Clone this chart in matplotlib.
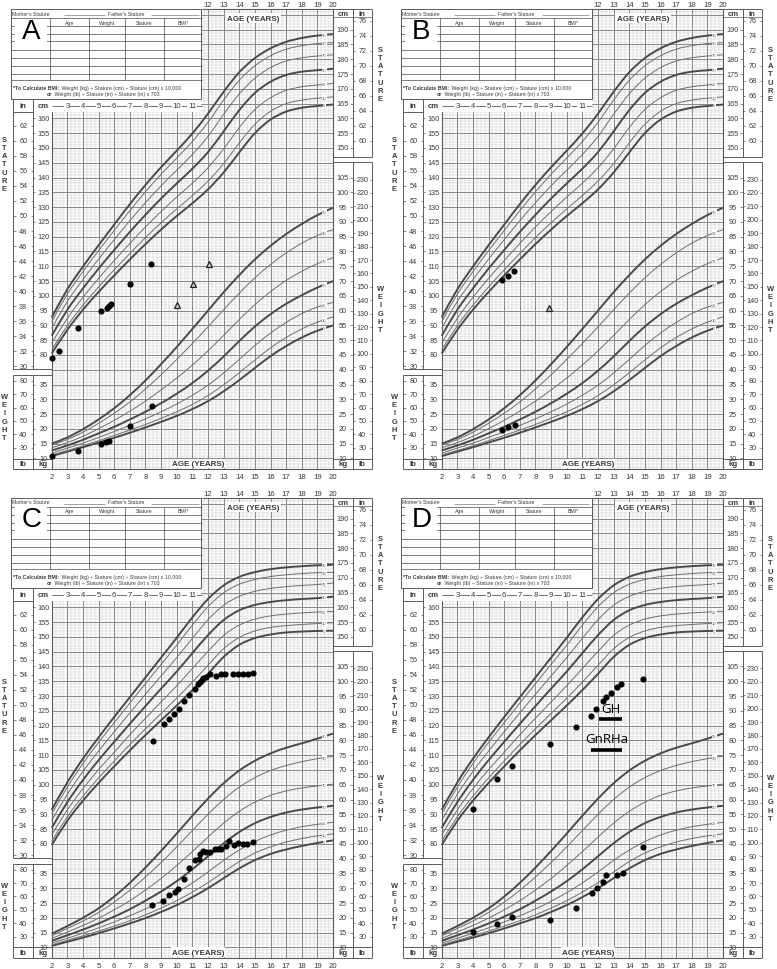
import matplotlib
matplotlib.use("Agg")
import matplotlib.pyplot as plt
import numpy as np
from matplotlib.patches import Rectangle, PathPatch
from matplotlib.path import Path
from matplotlib.collections import LineCollection

plt.rcParams['font.family'] = ['Liberation Sans', 'DejaVu Sans']

# ---------------- data ----------------
AGES = list(range(2, 21))
PCTS = [5, 10, 25, 50, 75, 90, 95]

BOY_STATURE = {
    5:  [80.5, 88.5, 95.3, 101.3, 106.9, 112.3, 117.5, 122.4, 127.0, 131.3, 136.0, 141.7, 148.5, 155.0, 159.6, 162.3, 163.6, 164.2, 164.7],
    10: [81.8, 89.9, 96.8, 103.0, 108.8, 114.3, 119.7, 124.7, 129.4, 133.9, 138.8, 144.7, 151.7, 158.0, 162.4, 165.0, 166.2, 166.8, 167.3],
    25: [84.0, 92.4, 99.5, 105.9, 111.9, 117.7, 123.3, 128.5, 133.4, 138.1, 143.3, 149.7, 156.9, 163.0, 167.0, 169.5, 170.7, 171.3, 171.8],
    50: [86.5, 95.3, 102.5, 109.2, 115.5, 121.6, 127.4, 132.9, 138.0, 143.0, 148.6, 155.6, 162.8, 168.6, 172.4, 174.7, 175.8, 176.3, 176.8],
    75: [89.0, 98.1, 105.5, 112.4, 119.0, 125.4, 131.5, 137.2, 142.5, 147.8, 153.9, 161.4, 168.3, 173.6, 177.2, 179.4, 180.5, 181.1, 181.5],
    90: [91.2, 100.6, 108.2, 115.3, 122.1, 128.8, 135.2, 141.1, 146.6, 152.2, 158.7, 166.2, 172.9, 177.8, 181.2, 183.4, 184.6, 185.3, 185.6],
    95: [92.7, 102.2, 109.9, 117.1, 124.1, 131.0, 137.5, 143.5, 149.1, 154.9, 161.6, 169.0, 175.6, 180.4, 183.7, 185.9, 187.2, 188.0, 188.5],
}
BOY_WEIGHT = {
    5:  [10.8, 12.3, 13.8, 15.4, 17.0, 18.7, 20.5, 22.4, 24.4, 26.7, 29.4, 32.7, 36.5, 40.6, 44.6, 48.0, 50.9, 53.2, 55.0],
    10: [11.2, 12.7, 14.3, 16.0, 17.8, 19.6, 21.5, 23.6, 25.8, 28.3, 31.3, 34.9, 39.0, 43.3, 47.4, 50.9, 53.8, 56.1, 57.9],
    25: [11.8, 13.5, 15.2, 17.1, 19.1, 21.2, 23.4, 25.8, 28.4, 31.4, 34.8, 38.9, 43.5, 48.2, 52.4, 56.0, 59.0, 61.2, 62.8],
    50: [12.7, 14.4, 16.3, 18.5, 20.7, 23.2, 25.8, 28.7, 31.9, 35.5, 39.7, 44.5, 49.7, 54.6, 58.8, 62.3, 65.2, 67.8, 70.0],
    75: [13.6, 15.4, 17.5, 20.1, 22.9, 26.0, 29.4, 33.2, 37.2, 41.6, 46.4, 51.6, 57.0, 62.0, 66.4, 70.2, 73.3, 75.9, 77.9],
    90: [14.5, 16.4, 18.9, 21.9, 25.3, 29.1, 33.5, 38.3, 43.5, 48.9, 54.5, 60.3, 65.9, 71.1, 75.6, 79.5, 82.8, 85.4, 87.4],
    95: [15.0, 17.1, 19.9, 23.2, 27.0, 31.4, 36.4, 41.9, 47.7, 53.8, 60.0, 66.2, 72.0, 77.3, 81.9, 85.9, 89.3, 92.3, 94.8],
}
GIRL_STATURE = {
    5:  [79.6, 87.8, 94.6, 100.6, 106.2, 111.6, 116.8, 121.8, 126.8, 132.0, 137.5, 143.2, 147.3, 149.6, 150.8, 151.5, 151.8, 152.0, 152.1],
    10: [80.9, 89.2, 96.1, 102.3, 108.0, 113.6, 118.9, 124.1, 129.3, 134.7, 140.4, 146.0, 149.8, 152.0, 153.2, 153.8, 154.2, 154.5, 154.8],
    25: [83.0, 91.5, 98.7, 105.1, 111.0, 116.9, 122.5, 128.0, 133.5, 139.3, 145.1, 150.5, 154.0, 156.0, 157.1, 157.7, 158.1, 158.4, 158.6],
    50: [85.4, 94.1, 101.6, 108.3, 114.5, 120.6, 126.6, 132.5, 138.3, 144.5, 150.6, 155.7, 159.0, 160.8, 161.8, 162.4, 162.8, 163.1, 163.6],
    75: [87.9, 96.8, 104.5, 111.4, 117.9, 124.3, 130.6, 136.8, 143.0, 149.5, 155.8, 160.7, 163.7, 165.4, 166.4, 167.0, 167.4, 167.7, 168.2],
    90: [90.1, 99.2, 107.2, 114.3, 121.0, 127.6, 134.2, 140.7, 147.2, 154.0, 160.2, 164.9, 167.8, 169.4, 170.4, 171.0, 171.4, 171.7, 171.8],
    95: [91.5, 100.8, 108.8, 116.0, 122.9, 129.6, 136.3, 143.0, 149.7, 156.6, 162.8, 167.4, 170.3, 171.9, 172.9, 173.5, 173.9, 174.2, 174.4],
}
GIRL_WEIGHT = {
    5:  [10.5, 11.9, 13.3, 14.8, 16.4, 18.1, 19.9, 22.0, 24.3, 27.0, 30.0, 33.4, 36.7, 39.5, 41.6, 43.1, 44.3, 45.3, 46.2],
    10: [10.9, 12.4, 13.9, 15.5, 17.2, 19.0, 21.0, 23.3, 25.8, 28.7, 31.9, 35.5, 39.0, 41.9, 44.0, 45.6, 46.8, 47.7, 48.4],
    25: [11.5, 13.1, 14.8, 16.6, 18.6, 20.7, 23.0, 25.6, 28.5, 31.8, 35.5, 39.4, 42.9, 45.8, 48.0, 49.6, 50.8, 51.6, 52.3],
    50: [12.2, 14.1, 16.0, 18.1, 20.4, 22.9, 25.8, 28.9, 32.4, 36.4, 40.8, 45.2, 49.0, 52.0, 54.1, 55.6, 56.6, 57.3, 57.9],
    75: [13.0, 15.2, 17.4, 19.9, 22.7, 25.8, 29.4, 33.3, 37.7, 42.4, 47.3, 52.0, 56.0, 59.1, 61.4, 62.9, 63.9, 64.6, 65.2],
    90: [13.9, 16.4, 18.9, 21.8, 25.3, 29.3, 33.8, 38.7, 44.0, 49.5, 55.0, 60.0, 64.2, 67.4, 69.8, 71.5, 72.8, 73.8, 74.7],
    95: [14.6, 17.2, 20.0, 23.2, 27.2, 31.8, 37.0, 42.6, 48.5, 54.5, 60.3, 65.5, 69.8, 73.1, 75.6, 77.5, 79.0, 80.6, 82.3],
}

# patient data (age in years, stature in cm, weight in kg)
A_STAT_AGE = [2.0, 2.49, 3.66, 5.17, 5.52, 5.65, 5.77, 6.99, 8.35]
A_STAT_CM = [79.0, 81.3, 89.0, 94.9, 95.9, 96.7, 97.1, 104.0, 110.9]
A_BONE_AGE = [10.02, 11.02, 12.04]
A_BONE_CM = [96.9, 104.0, 110.9]
A_WT_AGE = [2.0, 3.66, 5.17, 5.47, 5.67, 6.99, 8.42]
A_WT_KG = [10.9, 12.4, 15.0, 15.5, 16.0, 20.9, 27.8]

B_STAT_AGE = [5.86, 6.24, 6.63]
B_STAT_CM = [105.3, 106.8, 108.4]
B_BONE_AGE = [8.86]
B_BONE_CM = [95.8]
B_WT_AGE = [5.86, 6.24, 6.66]
B_WT_KG = [19.7, 20.6, 21.3]

C_STAT_AGE = [8.46, 9.18, 9.52, 9.84, 10.13, 10.48, 10.8, 11.15, 11.36, 11.49, 11.6, 11.7, 11.89,
              12.15, 12.51, 12.83, 13.09, 13.6, 13.94, 14.26, 14.54, 14.9]
C_STAT_CM = [114.8, 120.5, 122.1, 124.0, 125.6, 128.4, 130.4, 132.4, 133.9, 134.7, 135.4, 136.1, 136.6,
             137.3, 136.9, 137.4, 137.5, 137.5, 137.5, 137.5, 137.5, 137.8]
C_WT_AGE = [8.44, 9.10, 9.50, 9.87, 10.08, 10.48, 10.78, 11.15, 11.42, 11.49, 11.70, 11.85, 12.13,
            12.47, 12.62, 12.81, 13.13, 13.36, 13.68, 13.90, 14.24, 14.51, 14.90]
C_WT_KG = [24.4, 25.7, 27.7, 28.6, 29.9, 33.0, 37.0, 39.4, 40.0, 41.7, 42.7, 42.4, 42.2,
           43.4, 43.3, 43.2, 44.3, 45.9, 44.6, 45.4, 45.0, 45.1, 45.5]

D_STAT_AGE = [4.02, 5.56, 6.5, 8.93, 10.59, 11.55, 11.87, 12.32, 12.51, 12.83, 13.2, 13.47, 14.9]
D_STAT_CM = [91.8, 102.0, 106.3, 113.9, 119.4, 123.4, 125.7, 128.3, 129.5, 130.9, 132.9, 134.0, 135.9]
D_WT_AGE = [4.02, 5.56, 6.5, 8.93, 10.59, 11.59, 11.93, 12.34, 12.53, 13.21, 13.6, 14.9]
D_WT_KG = [15.2, 17.9, 20.1, 19.3, 23.3, 28.5, 30.0, 32.0, 34.5, 34.5, 35.3, 44.0]

TREAT_NAMES = ["GH", "GnRHa"]
TREAT_START = [12.08, 11.55]
TREAT_END = [13.54, 13.54]
TREAT_LEVEL_CM = [122.3, 111.9]

# ---------------- layout ----------------
W, H = 777, 970
fig = plt.figure(figsize=(W / 100, H / 100), dpi=100)
X0, XS, Y0, YS = 51.7, 15.63, 30.7, 2.957   # px of age 2, px per year, px of 190 cm, px per cm
KG_OFF = 35.0                               # weight kg + 35 shares the stature cm grid

def AG(px):
    return 2 + (px - X0) / XS

def CM(py):
    return 190 - (py - Y0) / YS

GRID_MAJ = '#8a8a8a'
GRID_MIN = '#c9c9c9'
FRAME = '#5a5a5a'
CURVE_B = '#4a4a4a'
CURVE_T = '#6e6e6e'
TXT = '#3a3a3a'


def smooth_path(xs, ys):
    """Smooth curve through the given points (cubic Bezier segments)."""
    P = np.column_stack([xs, ys]).astype(float)
    n = len(P)
    verts = [P[0]]
    codes = [Path.MOVETO]
    for i in range(n - 1):
        p0 = P[i - 1] if i > 0 else P[i]
        p1, p2 = P[i], P[i + 1]
        p3 = P[i + 2] if i + 2 < n else P[i + 1]
        verts += [p1 + (p2 - p0) / 6.0, p2 - (p3 - p1) / 6.0, p2]
        codes += [Path.CURVE4] * 3
    return Path(verts, codes)


def panel(fx0, fy0, fx1, fy1, ox, oy, letter, stat, wt, stat_lab_y, pts):
    ax = fig.add_axes([fx0 / W, 1 - fy1 / H, (fx1 - fx0) / W, (fy1 - fy0) / H])
    ax.set_xlim(AG(fx0 - ox), AG(fx1 - ox))
    ax.set_ylim(CM(fy1 - oy), CM(fy0 - oy))
    ax.axis('off')

    def seg(px0, py0, px1, py1, **kw):
        kw.setdefault('color', FRAME)
        kw.setdefault('lw', 0.7)
        kw.setdefault('zorder', 3)
        ax.plot([AG(px0), AG(px1)], [CM(py0), CM(py1)], solid_capstyle='butt', **kw)

    def rect(px0, py0, px1, py1, fc='white', ec='none', lw=0.7, z=2):
        ax.add_patch(Rectangle((AG(px0), CM(py1)), AG(px1) - AG(px0), CM(py0) - CM(py1),
                               fc=fc, ec=ec, lw=lw, zorder=z))

    def txt(px, py, s, size=5.0, z=5, **kw):
        kw.setdefault('ha', 'center')
        kw.setdefault('va', 'center')
        kw.setdefault('color', TXT)
        return ax.text(AG(px), CM(py), s, fontsize=size, zorder=z, **kw)

    top_py, bot_py = 10.0, 470.0
    cm_top, cm_bot = CM(top_py), CM(bot_py)

    # ---- grid ----
    segs_min, segs_maj = [], []
    for i in range(0, 18 * 4 + 1):
        a = 2 + i * 0.25
        if i % 4 == 0:
            segs_maj.append([(a, cm_bot), (a, cm_top)])
        else:
            segs_min.append([(a, cm_bot), (a, cm_top)])
    for c in range(int(np.ceil(cm_bot)), int(cm_top) + 1):
        if c % 5 == 0:
            segs_maj.append([(2, c), (20, c)])
        else:
            segs_min.append([(2, c), (20, c)])
    ax.add_collection(LineCollection(segs_min, colors=GRID_MIN, linewidths=0.35, zorder=1))
    ax.add_collection(LineCollection(segs_maj, colors=GRID_MAJ, linewidths=0.75, zorder=1.1))

    # ---- white covers ----
    rect(11, 9, 201.5, 113)
    rect(0, 0, 52, 485)
    rect(333.3, 0, 388, 485)
    rect(52, 470, 333.3, 485)
    rect(201.5, 0, 333.3, 10)

    # ---- frames ----
    seg(51.7, 113, 51.7, 470, lw=0.8)
    seg(333.3, 10, 333.3, 470, lw=0.8)
    seg(201.5, 10, 333.3, 10, lw=0.8)
    seg(51.7, 470, 333.3, 470, lw=0.8)
    seg(13.3, 100, 13.3, 370); seg(33.3, 100, 33.3, 370)
    seg(13.3, 370, 51.7, 370); seg(13.3, 113, 33.3, 113)
    seg(13.3, 375.7, 13.3, 470); seg(33.3, 375.7, 33.3, 470)
    seg(13.3, 375.7, 51.7, 375.7); seg(13.3, 470, 51.7, 470)
    seg(13.3, 459.5, 51.7, 459.5)
    seg(352.7, 10, 352.7, 158.3); seg(372, 10, 372, 158.3)
    seg(333.3, 10, 372, 10); seg(333.3, 158.3, 372, 158.3)
    seg(352.7, 163.3, 352.7, 470); seg(372, 163.3, 372, 470)
    seg(333.3, 163.3, 372, 163.3); seg(333.3, 470, 372, 470)
    seg(333.3, 459.5, 372, 459.5)
    seg(333.3, 18, 372, 18, lw=0.5)

    # ---- record box ----
    rect(11, 10, 201.5, 100, fc='white', ec=FRAME, lw=0.7, z=2.5)
    for y in [19, 27, 34.7, 42.3, 50.7, 58.7, 67, 74.7, 81.3]:
        seg(11, y, 201.5, y, lw=0.55)
    for x in [50, 88.7, 125, 164]:
        seg(x, 19, x, 81.3, lw=0.55)
    txt(12.5, 14, "Mother's Stature", size=3.7, ha='left')
    seg(64, 16.2, 105, 16.2, lw=0.4)
    txt(108.5, 14, "Father's Stature", size=3.7, ha='left')
    seg(151.5, 16.2, 199, 16.2, lw=0.4)
    for x, s in [(69.3, 'Age'), (106.8, 'Weight'), (144.5, 'Stature'), (182.7, 'BMI*')]:
        txt(x, 23, s, size=3.7)
    fig.canvas.draw()
    rend = fig.canvas.get_renderer()
    t1 = txt(13.0, 88.2, "*To Calculate BMI:", size=3.75, ha='left', weight='bold')
    bb = t1.get_window_extent(rend).transformed(ax.transData.inverted())
    ax.text(bb.x1 + 0.05, CM(88.2), " Weight (kg) \u00f7 Stature (cm) \u00f7 Stature (cm) x 10,000",
            fontsize=3.75, ha='left', va='center', color=TXT, zorder=5)
    t2 = txt(47.0, 94.6, "or", size=3.75, ha='left', weight='bold')
    bb = t2.get_window_extent(rend).transformed(ax.transData.inverted())
    ax.text(bb.x1 + 0.05, CM(94.6), " Weight (lb) \u00f7 Stature (in) \u00f7 Stature (in) x 703",
            fontsize=3.75, ha='left', va='center', color=TXT, zorder=5)
    rect(15, 19.5, 47, 44, z=4)
    txt(31.5, 31.5, letter, size=20, z=5.5, color='black')

    # ---- header / axis text ----
    for a in range(12, 21):
        txt(X0 + (a - 2) * XS, 5.2, str(a), size=5.6)
    for a in range(2, 21):
        txt(X0 + (a - 2) * XS, 477.3, str(a), size=5.6)
    seg(51.7, 107, 201.5, 107, lw=0.6)
    for a in range(3, 12):
        txt(X0 + (a - 2) * XS, 107, str(a), size=5.6,
            bbox=dict(fc='white', ec='none', pad=0.6))
    txt(253, 19.2, 'AGE (YEARS)', size=5.8, weight='bold',
        bbox=dict(fc='white', ec='none', pad=1.2))
    txt(198, 464.2, 'AGE (YEARS)', size=5.8, weight='bold',
        bbox=dict(fc='white', ec='none', pad=0.8))
    txt(23.3, 107, 'in', size=5.6, weight='bold')
    txt(43, 107, 'cm', size=5.6, weight='bold')
    txt(23.3, 464.8, 'lb', size=5.6, weight='bold')
    txt(43, 464.8, 'kg', size=5.6, weight='bold')
    txt(343, 464.8, 'kg', size=5.6, weight='bold')
    txt(362.3, 464.8, 'lb', size=5.6, weight='bold')
    txt(343, 14.2, 'cm', size=5.6, weight='bold')
    txt(362.3, 14.2, 'in', size=5.6, weight='bold')

    def vtext(px, py, word):
        ax.text(AG(px), CM(py), "\n".join(word), fontsize=5.4, weight='bold', ha='center',
                va='center', linespacing=1.22, color=TXT, zorder=5)
    vtext(4.0, stat_lab_y, 'STATURE')
    vtext(4.5, 418, 'WEIGHT')
    vtext(380.5, 75, 'STATURE')
    vtext(380.5, 310, 'WEIGHT')

    def ypx(c):
        return Y0 + (190 - c) * YS

    for inch in range(30, 63, 2):
        y = ypx(inch * 2.54)
        txt(23.3, y, str(inch), size=5.2)
        seg(13.3, y, 15.6, y, lw=0.5); seg(31.0, y, 33.3, y, lw=0.5)
    for c in range(80, 161, 5):
        y = ypx(c)
        txt(43.3, y, str(c), size=5.2)
        seg(33.3, y, 35.4, y, lw=0.5)
    for lb in range(30, 81, 10):
        y = ypx(lb * 0.45359 + KG_OFF)
        txt(23.3, y, str(lb), size=5.2)
        seg(13.3, y, 15.6, y, lw=0.5); seg(31.0, y, 33.3, y, lw=0.5)
    for kg in range(10, 36, 5):
        y = ypx(kg + KG_OFF)
        txt(43.3, y, str(kg), size=5.2)
        seg(33.3, y, 35.4, y, lw=0.5)
    for c in range(150, 191, 5):
        y = ypx(c)
        txt(342.6, y, str(c), size=5.2)
        seg(350.4, y, 352.7, y, lw=0.5)
    for inch in range(60, 77, 2):
        y = ypx(inch * 2.54)
        txt(362.3, y, str(inch), size=5.2)
        seg(352.7, y, 355, y, lw=0.5); seg(369.7, y, 372, y, lw=0.5)
    for kg in range(10, 106, 5):
        y = ypx(kg + KG_OFF)
        txt(342.6, y, str(kg), size=5.2)
        seg(350.4, y, 352.7, y, lw=0.5)
    for lb in range(30, 231, 10):
        y = ypx(lb * 0.45359 + KG_OFF)
        txt(362.3, y, str(lb), size=5.2)
        seg(352.7, y, 355, y, lw=0.5); seg(369.7, y, 372, y, lw=0.5)

    # ---- percentile curves ----
    for p in PCTS:
        bold = p in (5, 50, 95)
        col = CURVE_B if bold else CURVE_T
        lw = 1.4 if bold else 0.7
        for tab, off in ((stat, 0.0), (wt, KG_OFF)):
            path = smooth_path(AGES, np.array(tab[p]) + off)
            ax.add_patch(PathPatch(path, fill=False, ec=col, lw=lw, zorder=4,
                                   joinstyle='round', capstyle='butt'))
            yv = np.interp(19.45, AGES, tab[p]) + off
            ax.text(19.45, yv, str(p), fontsize=3.0, ha='center', va='center', color='#555555',
                    zorder=4.5, bbox=dict(fc='white', ec='none', pad=0.3))

    # ---- patient points ----
    ax.plot(pts['sa'], pts['sc'], 'o', color='black', ms=3.4, zorder=7)
    ax.plot(pts['wa'], np.array(pts['wk']) + KG_OFF, 'o', color='black', ms=3.4, zorder=7)
    if pts.get('ba'):
        ax.plot(pts['ba'], pts['bc'], '^', mfc='#c8c8c8', mec='#222222', mew=0.9, ms=4.6, zorder=7)
    return ax


OY2 = 488.9
axA = panel(0, 0, 388, 485, 0, 0, 'A', BOY_STATURE, BOY_WEIGHT, 165,
            dict(sa=A_STAT_AGE, sc=A_STAT_CM, wa=A_WT_AGE, wk=A_WT_KG, ba=A_BONE_AGE, bc=A_BONE_CM))
axB = panel(390, 0, 777, 485, 390, 0, 'B', BOY_STATURE, BOY_WEIGHT, 165,
            dict(sa=B_STAT_AGE, sc=B_STAT_CM, wa=B_WT_AGE, wk=B_WT_KG, ba=B_BONE_AGE, bc=B_BONE_CM))
axC = panel(0, 485, 388, 970, 0, OY2, 'C', GIRL_STATURE, GIRL_WEIGHT, 218,
            dict(sa=C_STAT_AGE, sc=C_STAT_CM, wa=C_WT_AGE, wk=C_WT_KG))
axD = panel(390, 485, 777, 970, 390, OY2, 'D', GIRL_STATURE, GIRL_WEIGHT, 218,
            dict(sa=D_STAT_AGE, sc=D_STAT_CM, wa=D_WT_AGE, wk=D_WT_KG))

for name, s, e, lev in zip(TREAT_NAMES, TREAT_START, TREAT_END, TREAT_LEVEL_CM):
    axD.plot([s, e], [lev, lev], color='black', lw=2.6, solid_capstyle='butt', zorder=8)
    axD.text((s + e) / 2, lev + 1.4, name, fontsize=9.5, ha='center', va='bottom',
             color='black', family=['Open Sans', 'DejaVu Sans'], zorder=8)

fig.savefig('out.png', dpi=100)
